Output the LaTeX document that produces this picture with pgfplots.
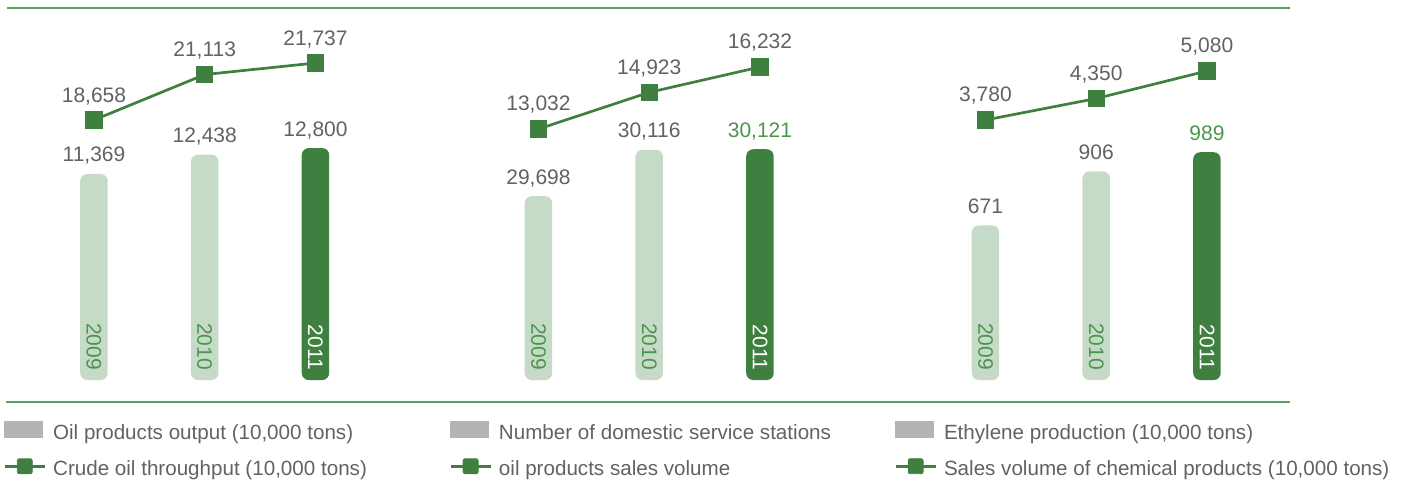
\documentclass[border=0pt]{standalone}
\usepackage{fontspec}
\setmainfont{Liberation Sans}
\usepackage{pgfplots}
\pgfplotsset{compat=1.18}

\definecolor{barlight}{HTML}{C6DBC7}
\definecolor{bardark}{HTML}{3F7F3F}
\definecolor{txtgreen}{HTML}{4C944C}
\definecolor{txtgray}{HTML}{626262}
\definecolor{legrect}{HTML}{B4B4B4}
\definecolor{rulegreen}{HTML}{5E9E5E}

\newcommand\valfont{\fontsize{10.5}{12}\selectfont}
\newcommand\legfont{\fontsize{10.3}{11}\selectfont}

\pgfplotsset{
  panel/.style={scale only axis, width=166.125pt, height=190pt,
    anchor=south west, xmin=-0.5, xmax=2.5,
    /pgf/number format/1000 sep={,},
    /pgf/number format/assume math mode=true},
  bars/.style={panel, axis on top, axis line style={draw=none}, ytick=\empty,
    xtick={0,1,2}, major tick length=0pt,
    xticklabels={\textcolor{txtgreen}{2009},\textcolor{txtgreen}{2010},\textcolor{white}{2011}},
    xticklabel style={rotate=-90, anchor=east, font=\valfont},
    xticklabel shift=-1.5pt,
    legend cell align=left,
    legend style={draw=none, fill=none, inner sep=0pt, anchor=north west,
      row sep=7pt, font=\legfont,
      nodes={inner sep=0pt, text height=7.5pt, text depth=2.5pt, text=txtgray},
      /tikz/every odd column/.append style={column sep=3.5pt}}},
  lines/.style={panel, hide axis, clip=false},
  lightbar/.style={ybar, bar width=13.75pt, bar shift=0pt, fill=barlight, draw=none,
    rounded corners=3.5pt, forget plot, nodes near coords,
    every node near coord/.append style={anchor=base, yshift=6pt, inner sep=0pt,
      text=txtgray, font=\valfont}},
  darkbar/.style={ybar, bar width=13.75pt, bar shift=0pt, fill=bardark, draw=none,
    rounded corners=3.5pt, forget plot, nodes near coords,
    every node near coord/.append style={anchor=base, yshift=6pt, inner sep=0pt,
      text=#1, font=\valfont}},
  trend/.style={bardark, line width=1.35pt, mark=square*, mark size=3.6pt,
    mark options={rounded corners=1pt}, nodes near coords,
    every node near coord/.append style={anchor=base, yshift=9pt, inner sep=0pt,
      text=txtgray, font=\valfont}},
}

\newcommand\barlegend{\addlegendimage{legend image code/.code={%
  \fill[legrect] (0pt,-1.75pt) rectangle (19pt,6.25pt);}}}
\newcommand\linelegend{\addlegendimage{legend image code/.code={%
  \draw[bardark, line width=1.35pt] (0pt,1.9pt) -- (20pt,1.9pt);
  \fill[bardark, rounded corners=1pt] (6.25pt,-1.85pt) rectangle (13.75pt,5.65pt);}}}

\begin{document}
\begin{tikzpicture}
\path[use as bounding box] (0,0) rectangle (703pt,-241pt);
\draw[rulegreen, line width=0.75pt] (3.5pt,-4pt) -- (645pt,-4pt);
\draw[rulegreen, line width=0.75pt] (3pt,-201pt) -- (645pt,-201pt);

% panel 1
\begin{axis}[bars, at={(19.3pt,-190pt)}, ymin=0, ymax=20971, clip=false,
  legend style={at={(-0.107,-0.108)}}]
\addplot[lightbar] coordinates {(0,11369) (1,12438)};
\addplot[darkbar=txtgray] coordinates {(2,12800)};
\barlegend
\addlegendentry{Oil products output (10,000 tons)}
\linelegend
\addlegendentry{Crude oil throughput (10,000 tons)}
\end{axis}
\begin{axis}[lines, at={(19.3pt,-190pt)}, ymin=4612, ymax=25141]
\addplot[trend] coordinates {(0,18658) (1,21113) (2,21737)};
\end{axis}

% panel 2
\begin{axis}[bars, at={(241.55pt,-190pt)}, ymin=28042, ymax=31465,
  legend style={at={(-0.103,-0.108)}}]
\addplot[lightbar] coordinates {(0,29698) (1,30116)};
\addplot[darkbar=txtgreen] coordinates {(2,30121)};
\barlegend
\addlegendentry{Number of domestic service stations}
\linelegend
\addlegendentry{oil products sales volume}
\end{axis}
\begin{axis}[lines, at={(241.55pt,-190pt)}, ymin=77, ymax=19690]
\addplot[trend] coordinates {(0,13032) (1,14923) (2,16232)};
\end{axis}

% panel 3
\begin{axis}[bars, at={(465.05pt,-190pt)}, ymin=0, ymax=1650, clip=false,
  legend style={at={(-0.109,-0.108)}}]
\addplot[lightbar] coordinates {(0,671) (1,906)};
\addplot[darkbar=txtgreen] coordinates {(2,989)};
\barlegend
\addlegendentry{Ethylene production (10,000 tons)}
\linelegend
\addlegendentry{Sales volume of chemical products (10,000 tons)}
\end{axis}
\begin{axis}[lines, at={(465.05pt,-190pt)}, ymin=-3118, ymax=6964]
\addplot[trend] coordinates {(0,3780) (1,4350) (2,5080)};
\end{axis}
\end{tikzpicture}
\end{document}
